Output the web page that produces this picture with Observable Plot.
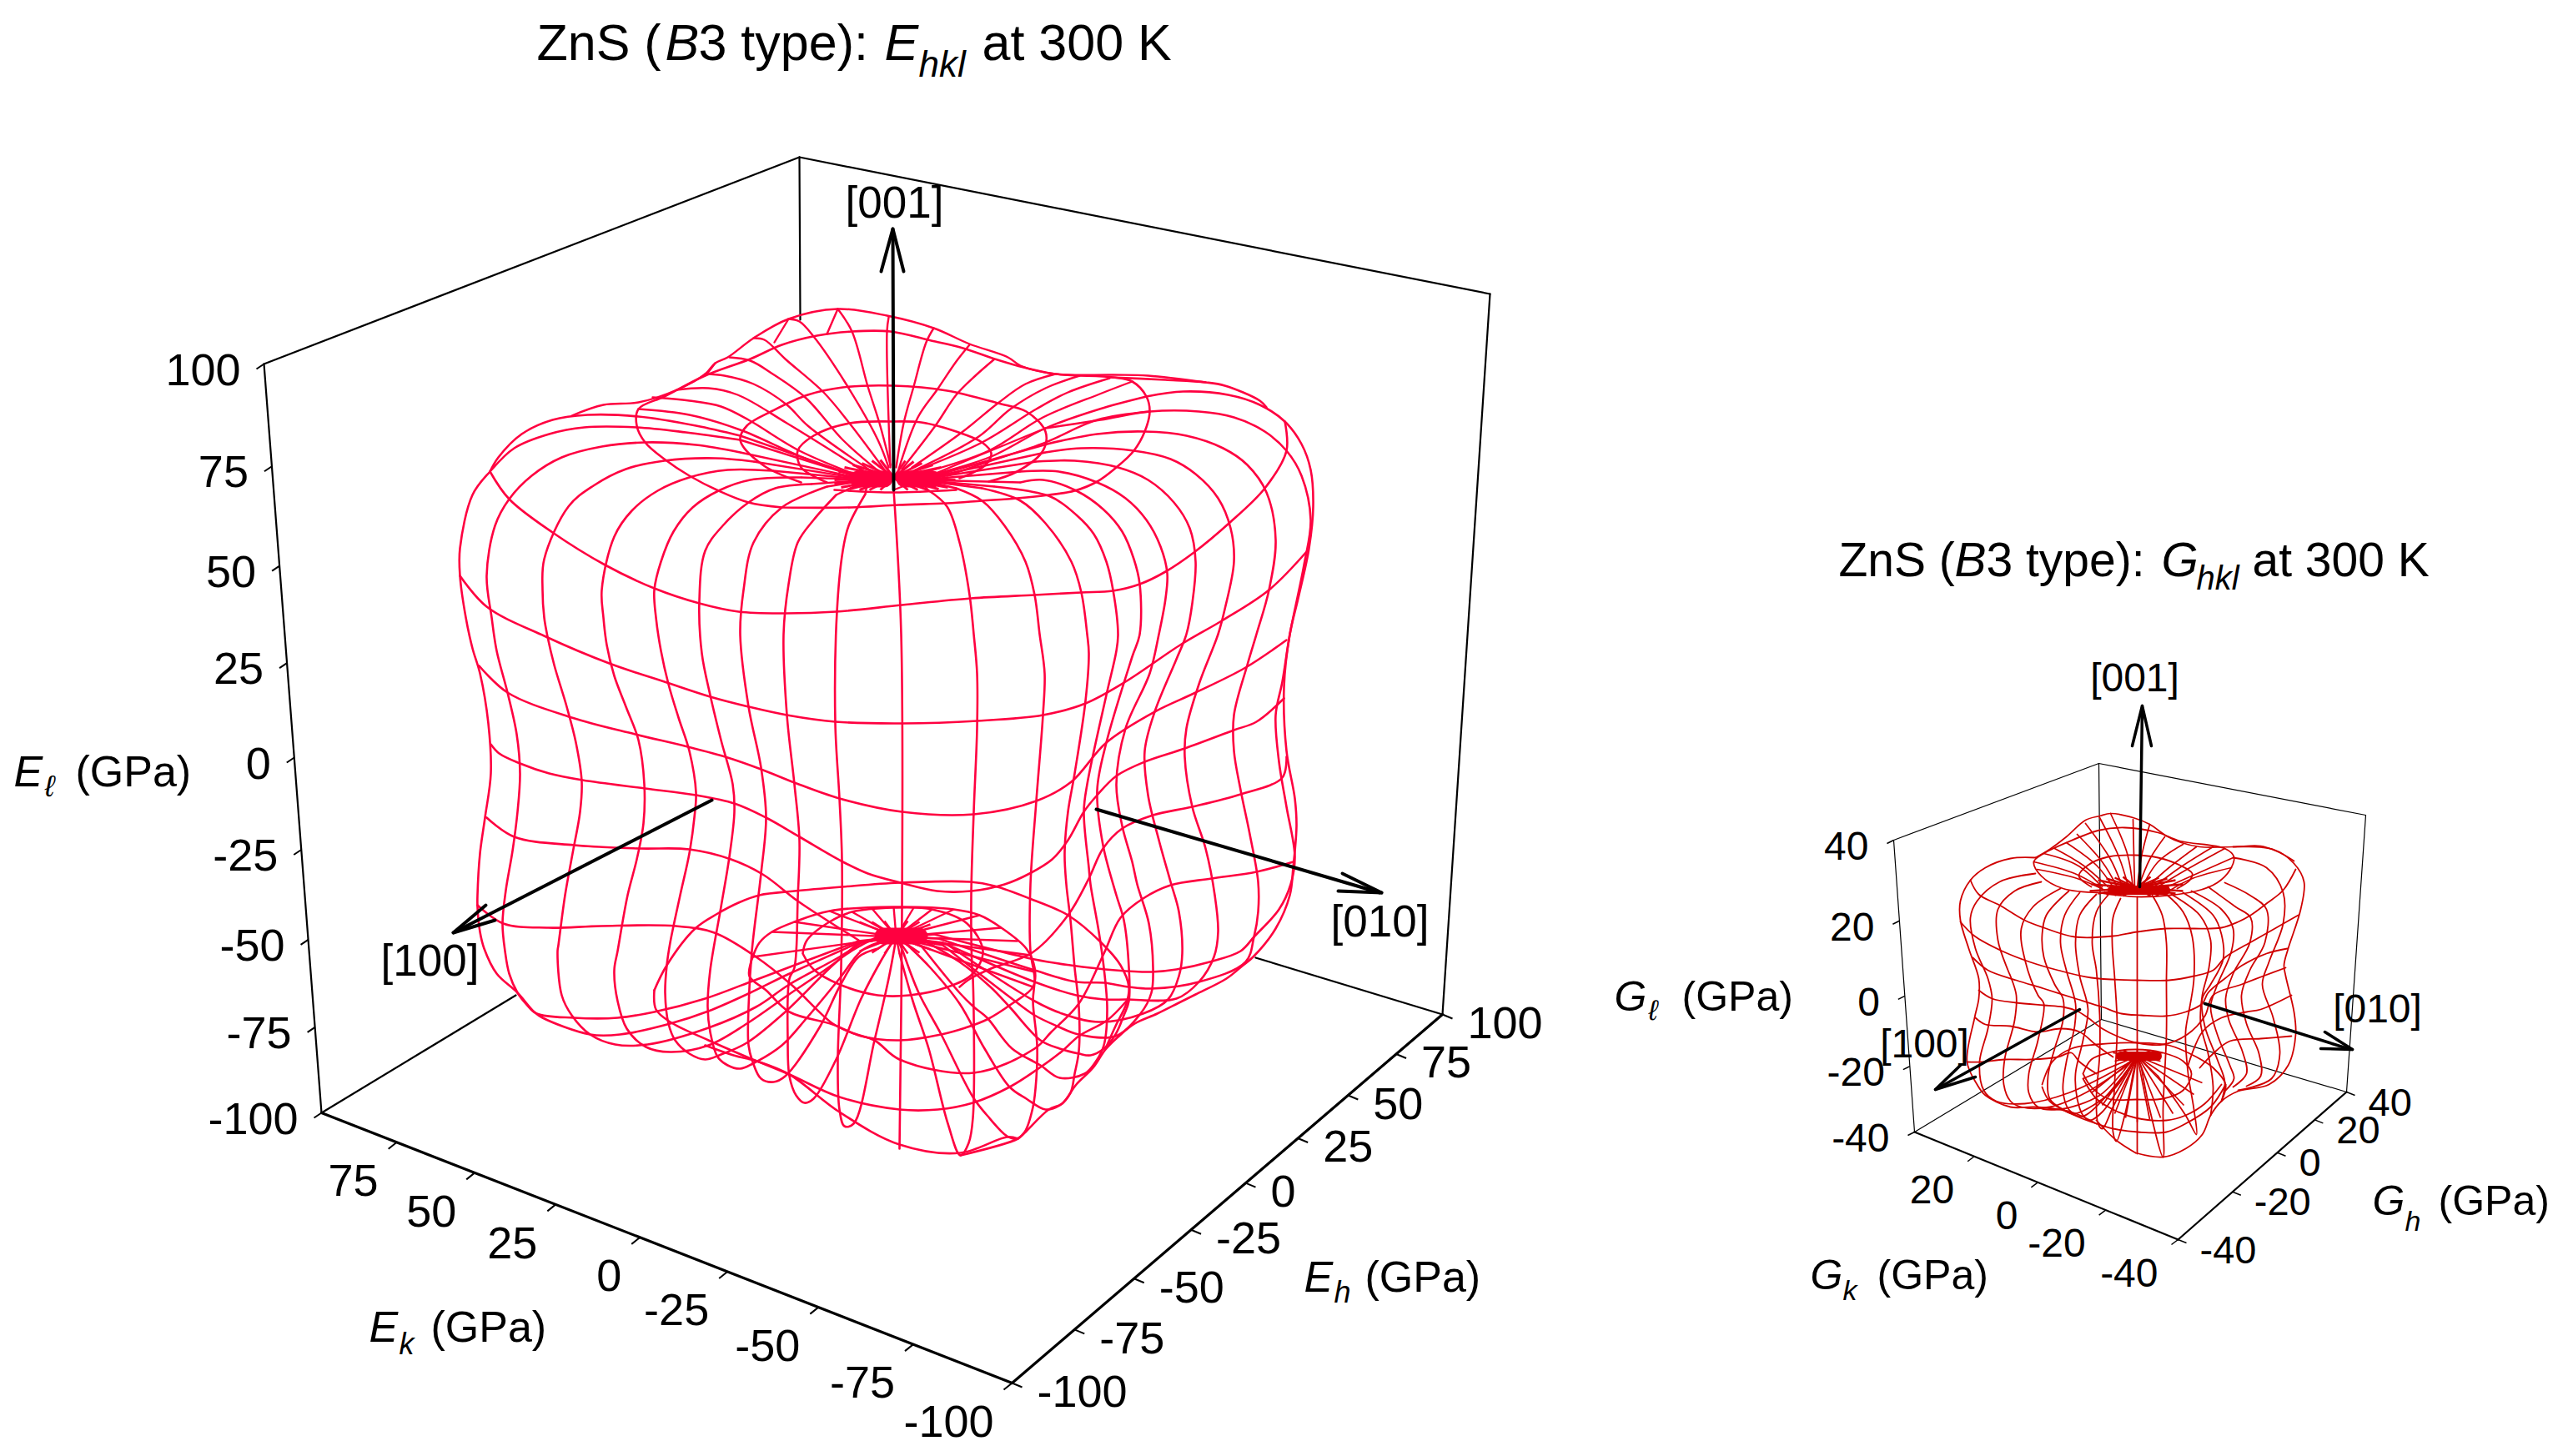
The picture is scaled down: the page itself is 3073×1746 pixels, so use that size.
<!DOCTYPE html>
<html><head><meta charset="utf-8">
<script src="https://cdn.jsdelivr.net/npm/d3@7"></script>
<script src="https://cdn.jsdelivr.net/npm/@observablehq/plot@0.6"></script>
<style>html,body{margin:0;padding:0;background:#fff}svg{display:block}</style>
</head><body><div id="chart"></div>
<script>
// Wireframes, as [x,y, x,y, ...] in the view plane.
const eMeridians = [
[1071,587,1080,760,1081,1090,1078,1377],
[1037,592,1017,630,1010,660,1003,733,1001,867,1006,957,1009,1030,1008,1160,1004,1273,1006,1330,1012,1350,1023,1347,1048,1247,1065,1173,1073,1130],
[1002,593,975,623,956,650,945,700,939,760,943,857,952,940,958,1007,956,1077,952,1160,946,1173,944,1247,946,1290,954,1313,964,1322,975,1317,1002,1270,1032,1197,1055,1153,1067,1133],
[991,583,937,608,903,650,891,707,887,760,897,847,912,920,918,980,912,1047,901,1140,897,1207,897,1253,902,1273,912,1293,927,1297,941,1290,983,1230,1006,1183,1029,1147,1052,1137],
[972,580,929,585,897,602,866,630,845,660,838,720,841,783,851,833,864,887,878,940,880,973,874,1027,864,1087,851,1163,848,1207,851,1237,860,1267,872,1277,887,1281,902,1275,937,1253,967,1220,1006,1173,1032,1140,1052,1130],
[960,572,899,575,861,588,830,608,807,637,792,673,784,707,786,740,792,780,801,820,813,860,826,900,834,950,832,980,826,1023,815,1073,803,1130,799,1157,797,1190,801,1227,809,1247,826,1263,845,1270,864,1264,895,1250,941,1213,1006,1150,1032,1133,1052,1123],
[926,564,872,563,826,572,788,588,757,612,736,643,721,707,723,740,727,773,736,810,750,847,765,887,772,940,771,987,763,1030,752,1073,740,1140,736,1163,740,1200,751,1233,774,1255,803,1261,849,1253,895,1227,944,1193,1002,1153,1029,1130],
[903,553,857,549,796,552,750,562,711,582,681,607,652,670,650,707,652,740,656,763,664,797,679,847,690,890,697,937,695,973,686,1023,677,1073,669,1133,668,1140,673,1193,685,1217,707,1240,737,1252,776,1252,849,1232,906,1207,946,1180,1006,1147,1032,1130],
[887,542,834,533,773,530,721,535,673,548,637,570,610,598,593,630,583,690,589,740,595,780,608,830,619,880,623,927,620,973,614,1020,606,1067,602,1107,605,1140,610,1167,620,1190,630,1203,643,1215,687,1220,740,1220,784,1213,845,1197,899,1177,952,1157,1029,1128],
[887,527,822,518,763,512,700,512,658,520,616,537,587,565,566,593,551,657,551,690,558,740,566,777,575,807,585,867,588,927,581,980,575,1023,572,1073,572,1087,575,1117,580,1137,595,1167,620,1190,640,1213,650,1220,707,1240,743,1240,803,1227,849,1212,899,1190,944,1168,1029,1130],
[887,522,834,510,765,499,704,497,662,503,625,520,597,548,587,565],
[1112,587,1135,607,1150,650,1162,713,1167,760,1171,807,1171,873,1167,973,1164,1073,1165,1160,1166,1173,1166,1340,1161,1370,1151,1385,1136,1347,1113,1257,1094,1200,1078,1143],
[1146,585,1177,600,1204,630,1229,673,1240,713,1246,760,1252,807,1250,857,1242,960,1235,1060,1235,1140,1240,1173,1238,1200,1243,1253,1242,1293,1238,1327,1228,1357,1218,1365,1207,1362,1183,1337,1166,1315,1128,1240,1101,1190,1082,1140],
[1177,585,1223,600,1253,627,1284,673,1296,710,1303,760,1305,783,1301,840,1288,927,1280,973,1276,1023,1278,1060,1283,1103,1288,1160,1293,1207,1293,1260,1288,1287,1283,1310,1270,1325,1253,1330,1230,1317,1210,1303,1180,1257,1150,1203,1115,1160,1090,1135],
[1192,583,1259,595,1290,617,1311,640,1326,673,1334,707,1340,760,1338,780,1326,833,1303,940,1299,973,1305,1040,1307,1060,1317,1117,1323,1160,1327,1210,1323,1253,1313,1273,1300,1287,1270,1292,1247,1277,1213,1257,1183,1220,1167,1207,1150,1190,1105,1135],
[1223,578,1250,575,1290,588,1322,610,1345,637,1359,670,1366,700,1366,760,1357,787,1326,890,1315,947,1322,1013,1338,1073,1347,1103,1353,1160,1353,1200,1347,1217,1337,1240,1323,1257,1307,1265,1293,1263,1270,1257,1247,1247,1210,1207,1187,1183,1150,1153,1112,1130],
[1223,565,1269,565,1315,578,1349,597,1374,623,1391,655,1399,687,1397,717,1389,760,1378,807,1349,873,1338,940,1345,990,1357,1033,1363,1060,1377,1107,1382,1160,1380,1190,1367,1215,1337,1242,1293,1240,1267,1230,1240,1217,1210,1195,1130,1133],
[1242,553,1288,552,1340,560,1376,575,1407,602,1426,633,1433,673,1429,723,1422,760,1410,790,1384,853,1372,900,1376,953,1389,1007,1403,1057,1413,1093,1417,1143,1413,1170,1400,1198,1370,1215,1317,1225,1273,1215,1240,1200,1135,1132],
[1253,542,1296,537,1359,540,1403,550,1433,568,1460,597,1475,633,1479,673,1468,730,1460,760,1437,820,1422,873,1420,907,1429,967,1445,1017,1456,1073,1460,1117,1455,1147,1437,1177,1410,1197,1350,1198,1323,1198,1290,1193,1240,1177,1130,1130],
[1255,532,1315,520,1372,517,1422,522,1466,537,1495,557,1518,590,1529,647,1521,707,1506,760,1495,797,1479,857,1479,900,1487,947,1498,1000,1508,1057,1508,1093,1503,1123,1493,1153,1437,1177,1380,1185,1353,1183,1323,1178,1290,1177,1240,1163,1125,1125],
[1253,513,1319,503,1378,493,1437,493,1479,500,1516,517,1542,540,1560,570,1571,623,1563,677,1546,760,1537,817,1529,857,1533,913,1542,967,1552,1027,1547,1060,1533,1090,1503,1123,1487,1140,1450,1153,1410,1162,1380,1165,1337,1163,1283,1157,1240,1150,1120,1120],
[1374,475,1418,469,1472,473,1510,485,1540,505,1560,532,1571,563,1574,607,1569,657,1556,717,1546,760,1539,823,1542,900,1552,957,1554,990,1550,1040,1546,1073,1529,1113,1502,1147,1490,1157,1470,1173,1433,1192,1413,1202,1387,1215,1360,1227,1340,1243,1325,1258,1310,1280,1290,1300,1273,1323,1257,1330,1228,1358,1220,1365,1151,1385],
[1330,452,1397,455,1445,458,1468,462,1510,480,1518,488]
];
const eFan = [
[782,476,826,480,864,487,897,503,958,540,1037,573],
[765,490,826,497,887,515,960,547,1037,575],
[811,467,849,465,884,473,943,507,1044,570],
[845,448,868,450,903,460,943,485,968,510,1048,567],
[874,428,899,432,926,448,966,477,1010,527,1056,567],
[903,405,916,407,941,430,987,470,1018,507,1060,563],
[945,382,958,385,975,403,1014,460,1052,527,1065,560],
[1004,370,1021,397,1040,463,1054,507,1067,557],
[1004,370,991,400],[945,382,928,410],[857,435,847,448],
[1065,380,1063,397,1067,560],
[1119,393,1110,410,1095,463,1083,507,1074,560],
[1162,413,1146,433,1123,467,1100,500,1077,562],
[1192,430,1169,450,1146,473,1121,510,1081,562],
[1265,448,1229,460,1196,483,1154,517,1093,560],
[1294,450,1253,465,1211,490,1173,523,1097,563],
[1330,453,1280,470,1242,490,1177,530,1100,563],
[1357,457,1318,472,1250,500,1185,540,1104,567],
[1374,475,1318,490,1253,513,1188,547,1112,570],
[1378,493,1315,503,1253,530,1185,553,1135,570],
[685,498,723,485,765,482,811,467,845,448,857,435,872,428,903,405,945,382,1004,370,1063,378,1119,393,1162,412,1208,428,1223,438,1265,448,1334,449,1376,450,1445,458]
];
const eParallels = [
[991,578,960,560,956,540,975,522,1018,507,1071,505,1104,506,1146,517,1177,530,1188,543,1181,557,1150,573],
[960,578,914,557,887,527,895,510,926,492,968,473,1010,464,1071,462,1135,468,1196,483,1230,493,1253,517,1250,540,1219,565,1185,577],
[937,608,897,602,861,588,826,570,796,550,773,530,763,510,765,490,796,475,845,450,899,430,937,413,979,402,1021,397,1067,397,1116,408,1154,417,1192,430,1219,438,1265,448,1334,452,1357,457,1374,475,1378,493,1372,517,1359,540,1338,560,1315,577,1288,588,1257,593,1219,597,1177,600,1135,603,1077,605,1020,608,937,608],
[587,565,610,598,662,638,725,677,784,705,838,723,885,733,939,735,1002,733,1081,725,1164,717,1240,713,1296,710,1334,708,1366,700,1397,685,1431,662,1473,627,1516,585,1542,540,1540,505],
[551,690,583,727,654,763,730,795,799,818,851,835,897,847,943,857,1001,865,1081,867,1171,864,1250,857,1301,843,1349,817,1416,772,1466,743,1521,707,1567,660],
[574,798,608,830,685,860,761,880,824,895,872,908,912,922,952,938,1006,957,1081,973,1167,976,1242,960,1284,937,1326,890,1384,853,1433,830,1493,800,1542,767],
[588,892,598,903,623,915,658,927,698,935,773,945,834,953,880,963,918,980,958,1003,1010,1033,1040,1047,1079,1058,1123,1068,1164,1068,1204,1060,1234,1047,1261,1030,1280,1007,1299,973,1315,953,1338,930,1372,913,1420,897,1479,875,1506,865,1539,837],
[583,980,616,1003,688,1013,765,1017,826,1018,876,1030,914,1048,956,1080,994,1105,1029,1127],
[1542,907,1537,932,1487,952,1429,967,1382,977,1345,993,1322,1017,1305,1053,1280,1097,1237,1142,1190,1160,1163,1173,1150,1183],
[572,1085,603,1107,657,1112,720,1110,810,1110,856,1118,906,1147,948,1180,998,1227,1021,1238,1048,1247,1078,1270,1167,1286,1240,1257,1260,1237,1293,1203,1323,1143,1343,1100,1370,1077,1403,1061,1452,1053,1506,1045,1550,1033],
[784,1187,799,1157,833,1113,860,1095,885,1082,910,1073,952,1068,1009,1063,1078,1058,1163,1057,1192,1062,1234,1077,1280,1097,1320,1130,1343,1157,1353,1183,1350,1203,1337,1230,1325,1257],
[784,1187,786,1210,803,1225,849,1247,895,1267,946,1288,1006,1315,1078,1330,1124,1330,1166,1322,1210,1303,1243,1282,1273,1260,1293,1242,1327,1223,1350,1200],
[845,1253,879,1265,910,1273,946,1288,1006,1333,1078,1372,1151,1382,1207,1363,1220,1365],
[902,1147,910,1130,925,1117,952,1105,994,1092,1071,1087,1143,1090,1174,1097,1200,1112,1230,1137,1240,1160,1238,1183,1213,1203,1183,1222,1157,1232,1128,1240,1078,1247,1032,1242,998,1228,946,1213,918,1187,898,1170,902,1147],
[962,1143,967,1127,994,1105,1021,1093,1071,1088,1117,1090,1159,1107,1178,1140,1166,1167,1136,1183,1090,1193,1052,1193,1006,1180,975,1162,962,1143],
[1000,587,1071,590,1146,587]
];
const eTopSpokes = [1000,575,1005,565,1012,560,1022,557,1033,555,1045,552,1055,551,1000,580,1008,584,1018,586,1030,587,1042,587,1055,587,1145,575,1138,566,1128,560,1118,557,1105,555,1095,553,1085,552,1145,580,1136,584,1125,586,1112,587,1100,587,1088,587];
const eBotSpokes = [902,1147,925,1117,952,1105,994,1092,1021,1093,1045,1089,1071,1087,1095,1088,1117,1090,1143,1090,1174,1097,1200,1112,1220,1128,1235,1145,1240,1165,1238,1183,1030,1105,1045,1105,1060,1104,1088,1104,1102,1105,1115,1108,1030,1140,1045,1142,1060,1143,1088,1143,1102,1142,1115,1138];

const gMeridians = [
[2562,1075,2562,1240,2562,1383],
[2542,1077,2533,1100,2532,1130,2535,1173,2538,1230,2535,1297,2533,1357,2537,1368,2547,1337,2557,1287],
[2527,1073,2513,1093,2508,1130,2513,1163,2517,1217,2517,1263,2513,1317,2515,1347,2520,1353,2533,1327,2553,1287],
[2513,1072,2493,1097,2488,1130,2493,1170,2503,1210,2497,1247,2488,1287,2490,1317,2497,1337,2505,1343,2520,1333,2550,1287],
[2493,1070,2475,1097,2470,1130,2477,1163,2488,1203,2487,1230,2477,1273,2473,1307,2480,1330,2497,1338,2550,1283],
[2480,1068,2453,1097,2448,1120,2450,1147,2463,1180,2473,1197,2473,1223,2463,1257,2455,1290,2457,1317,2473,1330,2487,1335,2533,1307,2552,1280],
[2470,1065,2437,1087,2423,1113,2428,1153,2443,1193,2450,1203,2443,1247,2432,1287,2432,1310,2443,1327,2467,1330,2517,1313,2550,1278],
[2447,1057,2415,1068,2395,1090,2395,1127,2407,1163,2410,1170,2417,1193,2415,1223,2403,1270,2402,1300,2410,1320,2423,1327,2457,1327,2500,1310,2550,1277],
[2440,1047,2397,1057,2370,1080,2362,1100,2368,1137,2383,1173,2388,1197,2383,1233,2373,1273,2378,1307,2393,1320,2427,1323,2480,1310,2550,1275],
[2440,1028,2410,1029,2380,1040,2362,1055,2350,1080,2350,1103,2360,1137,2372,1173,2372,1197,2367,1220,2358,1273,2370,1300,2380,1313,2410,1327,2440,1327,2483,1333,2513,1347],
[2580,1073,2592,1097,2597,1130,2597,1177,2597,1240,2593,1330,2593,1387,2577,1330,2567,1280],
[2597,1072,2617,1093,2628,1123,2630,1173,2625,1207,2620,1237,2623,1287,2630,1330,2633,1360,2620,1337,2587,1290],
[2603,1072,2637,1097,2650,1127,2648,1160,2640,1193,2638,1227,2647,1263,2653,1303,2650,1337],
[2617,1070,2653,1097,2663,1120,2665,1150,2650,1180,2640,1197,2643,1230,2658,1270,2667,1297,2663,1320],
[2627,1068,2663,1090,2677,1113,2675,1140,2657,1183,2650,1207,2658,1240,2673,1277,2678,1293,2668,1307],
[2647,1063,2680,1087,2698,1100,2697,1130,2677,1167,2668,1197,2672,1223,2688,1260,2693,1287,2677,1303],
[2667,1058,2697,1073,2717,1090,2715,1130,2697,1163,2687,1193,2693,1227,2708,1263,2710,1290,2693,1302],
[2677,1028,2717,1040,2737,1070,2737,1107,2720,1153,2712,1180,2725,1220,2733,1263,2723,1293,2683,1307],
[2677,1015,2725,1018,2750,1035,2762,1057,2758,1090,2743,1137,2738,1157,2740,1170,2750,1213,2752,1240,2743,1277,2720,1300,2683,1308,2663,1320,2650,1337,2640,1360,2620,1377,2593,1387,2560,1382]
];
const gFan = [
[2450,1023,2490,1037,2520,1063],[2463,1017,2497,1037,2527,1063],[2477,1010,2513,1037,2533,1063],
[2490,1000,2520,1033,2538,1063],[2500,987,2530,1030,2545,1065],[2517,980,2540,1027,2552,1065],
[2530,975,2550,1023,2557,1065],[2557,982,2558,1025,2559,1065],[2577,988,2567,1027,2562,1065],
[2595,1003,2577,1030,2563,1065],[2617,1012,2587,1033,2567,1065],[2633,1015,2600,1040,2572,1065],
[2653,1015,2613,1040,2577,1067],[2667,1017,2620,1043,2580,1067],[2677,1028,2627,1050,2587,1068],
[2675,1040,2628,1053,2600,1068],[2438,1033,2487,1047,2520,1065],[2442,1042,2490,1053,2523,1067],
[2440,1028,2457,1018,2477,1003,2500,983,2517,978,2530,975,2557,980,2577,988,2597,1002,2615,1010,2637,1015,2677,1015,2710,1014,2733,1022,2750,1032]
];
const gParallels = [
[2507,1063,2492,1050,2503,1037,2527,1027,2560,1025,2587,1028,2613,1037,2628,1047,2625,1055,2610,1065],
[2517,1070,2473,1065,2447,1050,2438,1033,2450,1023,2477,1010,2517,995,2547,992,2587,998,2613,1008,2667,1017,2678,1027,2673,1043,2658,1058,2633,1068,2567,1075,2517,1070],
[2362,1055,2372,1072,2397,1085,2427,1103,2450,1112,2487,1123,2533,1122,2562,1117,2597,1113,2628,1113,2663,1112,2683,1105,2698,1097,2717,1083,2737,1067,2752,1042],
[2350,1105,2367,1122,2400,1140,2433,1153,2467,1163,2507,1172,2562,1175,2600,1175,2630,1170,2653,1163,2668,1147,2697,1130,2727,1113,2755,1097],
[2365,1148,2383,1163,2417,1175,2450,1185,2488,1197,2520,1207,2543,1215,2567,1217,2595,1218,2620,1213,2640,1203,2647,1190,2667,1173,2688,1157,2717,1143,2742,1137],
[2372,1187,2388,1197,2417,1202,2450,1205,2473,1207,2490,1212,2503,1220,2520,1233,2540,1243,2562,1250,2593,1252,2622,1240,2643,1218,2653,1193,2687,1180,2713,1170,2740,1160],
[2368,1220,2380,1228,2410,1230,2443,1237,2470,1233,2493,1237,2513,1253,2533,1267],
[2623,1277,2640,1237,2663,1220,2693,1213,2710,1210,2747,1193],
[2358,1273,2375,1273,2403,1270,2435,1270,2467,1267,2483,1262,2493,1273,2513,1287],
[2747,1242,2710,1245,2673,1248,2653,1263,2637,1280],
[2448,1300,2460,1273,2483,1257,2513,1252,2560,1250,2600,1253,2633,1267,2653,1280,2668,1300,2663,1320],
[2448,1303,2457,1320,2487,1337,2513,1347,2533,1353,2563,1357,2597,1357,2620,1347,2650,1327,2668,1300],
[2497,1293,2513,1317,2533,1330,2560,1340,2597,1343,2620,1337,2643,1323,2663,1300],
[2497,1287,2507,1270,2527,1262,2560,1258,2593,1262,2617,1272,2627,1287,2617,1307,2593,1317,2560,1318,2527,1317,2507,1303,2497,1287],
[2513,1343,2537,1367,2560,1382]
];
const gTopSpokes = [2507,1060,2515,1055,2525,1053,2535,1052,2545,1051,2505,1068,2515,1071,2525,1072,2535,1073,2545,1074,2617,1060,2608,1055,2598,1053,2588,1052,2578,1051,2617,1068,2608,1071,2598,1072,2588,1073,2578,1074];
const gBotSpokes = [2497,1293,2507,1310,2520,1325,2535,1335,2548,1340,2562,1345,2577,1342,2590,1340,2605,1335,2618,1325,2630,1312,2640,1298,2533,1262,2545,1259,2562,1258,2578,1259,2593,1262,2535,1272,2590,1272];

// Solid knots where the meridians crowd together at the poles: [x1,y1,x2,y2]
const ePoleKnots = [[1028,574,1060,574],[1084,574,1118,574],[1058,1122,1102,1122]];
const gPoleKnots = [[2532,1067,2596,1067],[2542,1266,2586,1266]];

// Axes
const eTicks = [100,75,50,25,0,-25,-50,-75,-100];
const gTicks = [40,20,0,-20,-40];
const eBox = {top:[958,188],left:[316,436],right:[1786,352],lb:[385,1334],front:[1213,1658],rb:[1729,1216]};
const gBox = {top:[2516,915],left:[2270,1007],right:[2836,977],lb:[2295,1357],front:[2611,1486],rb:[2813,1309],back:[2519,1222]};

const ink = "#000";
const eRed = "#ff0040", gRed = "#d00000";

function toPts(lines, key) {
  return lines.flatMap((l, i) => {
    const p = [];
    for (let j = 0; j < l.length; j += 2) p.push({x: l[j], y: l[j+1], id: key + i});
    return p;
  });
}
function spokes(flat, cx, cy) {
  const s = [];
  for (let j = 0; j < flat.length; j += 2) s.push({x1: flat[j], y1: flat[j+1], x2: cx, y2: cy});
  return s;
}
// meridians run on into the poles
const eTopJoin = eMeridians.filter(l => l[0] < 1300).map(l => {
  const left = l[0] < 1071;
  return {x1: l[0], y1: l[1], x2: left ? 1040 : 1102, y2: 575};
});
const eBotJoin = eMeridians.filter(l => { const n = l.length; return l[n-1] < 1145 && l[n-2] > 1020 && l[n-2] < 1140; })
  .map(l => { const n = l.length; return {x1: l[n-2], y1: l[n-1], x2: 1074, y2: 1123}; });
const gBotJoin = gMeridians.filter(l => { const n = l.length; return l[n-1] < 1295 && l[n-1] > 1270; })
  .map(l => { const n = l.length; return {x1: l[n-2], y1: l[n-1], x2: 2562, y2: 1266}; });

const along = (a, b, s, r) => { const f = s / (s + (1 - s) * r); return [a[0] + (b[0]-a[0]) * f, a[1] + (b[1]-a[1]) * f]; };
function axisData(ticks, max, a, b, r, dir, tx, ty, lx, ly, skip) {
  return ticks.filter(t => t !== skip).map(t => {
    const p = along(a, b, dir(t, max), r);
    return {t: String(t), x1: p[0], y1: p[1], x2: p[0]+tx, y2: p[1]+ty, lx: p[0]+lx, ly: p[1]+ly};
  });
}
const down = (t, m) => (m - t) / (2 * m), up = (t, m) => (t + m) / (2 * m);

function axisMarks(rows, anchor, fs, sw) {
  return [
    Plot.link(rows, {x1:"x1", y1:"y1", x2:"x2", y2:"y2", stroke: ink, strokeWidth: sw}),
    Plot.text(rows, {x:"lx", y:"ly", text:"t", fontSize: fs, textAnchor: anchor, fill: ink})
  ];
}
function seg(pairs, sw, color) {
  const rows = pairs.map(([a, b]) => ({x1:a[0], y1:a[1], x2:b[0], y2:b[1]}));
  return Plot.link(rows, {x1:"x1", y1:"y1", x2:"x2", y2:"y2", stroke: color || ink, strokeWidth: sw, strokeLinecap:"round"});
}
const E = eBox, G = gBox;
const eL = axisData(eTicks,100,E.left,E.lb,0.9026,down,-9,6,-28,8);
const eK = axisData(eTicks,100,E.lb,E.front,1.169,down,-10,8,-22,47,100);
const eH = axisData(eTicks,100,E.front,E.rb,0.843,up,12,5,30,11);
const gL = axisData(gTicks,40,G.left,G.lb,0.873,down,-8,4,-30,8);
const gK = axisData(gTicks,40,G.lb,G.front,1.137,down,-8,6,-24,41,40);
const gH = axisData(gTicks,40,G.front,G.rb,0.698,up,10,4,26,13);

const wire = (pts, sw, c) => Plot.line(pts, {x:"x", y:"y", z:"id", stroke:c, strokeWidth:sw, curve:"catmull-rom", strokeLinejoin:"round"});
const spoke = (rows, sw, c) => Plot.link(rows, {x1:"x1", y1:"y1", x2:"x2", y2:"y2", stroke:c, strokeWidth:sw});
const knots = (rows, sw, c) => Plot.link(rows, {x1:d=>d[0], y1:d=>d[1], x2:d=>d[2], y2:d=>d[3], stroke:c, strokeWidth:sw, strokeLinecap:"round"});

// text runs: [text, x, y, size, italic]
const runs = [
 ["ZnS (",643,71,61,0],["B",797,71,61,1],["3 type): ",837,71,61,0],["E",1060,71,61,1],["hkl",1101,91,44,1],["at 300 K",1177,71,61,0],
 ["ZnS (",2204,690,57,0],["B",2343,690,57,1],["3 type): ",2381,690,57,0],["G",2591,690,57,1],["hkl",2633,706,40,1],["at 300 K",2700,690,57,0],
 ["E",16,942,52,1],["\u2113",53,954,36,1],["(GPa)",90,942,52,0],
 ["E",442,1608,52,1],["k",478,1623,36,1],["(GPa)",516,1608,52,0],
 ["E",1563,1548,52,1],["h",1599,1561,36,1],["(GPa)",1636,1548,52,0],
 ["G",1935,1211,50,1],["\u2113",1976,1222,34,1],["(GPa)",2016,1211,50,0],
 ["G",2170,1545,50,1],["k",2209,1558,34,1],["(GPa)",2250,1545,50,0],
 ["G",2844,1456,50,1],["h",2883,1475,34,1],["(GPa)",2923,1456,50,0]
];
const dirLabels = [["[001]",1072,244,53],["[100]",515,1153,53],["[010]",1654,1106,53],["[001]",2559,813,48],["[100]",2307,1252,48],["[010]",2850,1210,48]];

function runMarks(rows) {
  const sizes = [...new Set(rows.map(r => r[3]))];
  return sizes.flatMap(fs => [0,1].map(it => Plot.text(rows.filter(r => r[3] === fs && r[4] === it), {
    x: r => r[1], y: r => r[2], text: r => r[0], fontSize: fs, fontStyle: it ? "italic" : "normal",
    textAnchor: "start", lineAnchor: "bottom", fill: ink})));
}

const chart = Plot.plot({
  width: 3073, height: 1746, margin: 0,
  style: {fontFamily: "'Liberation Sans', Arial, sans-serif", background: "#fff"},
  x: {domain: [0, 3073], range: [0, 3073], axis: null},
  y: {domain: [0, 1746], range: [0, 1746], axis: null},
  marks: [
    seg([[E.left,E.top],[E.top,E.right],[E.top,[959,383]],[E.left,E.lb],[E.right,E.rb],[E.lb,[618,1193]],[E.rb,[1505,1148]]], 2.2),
    seg([[E.lb,E.front],[E.front,E.rb]], 3.2),
    ...axisMarks(eL,"end",54,2), ...axisMarks(eK,"end",54,2), ...axisMarks(eH,"start",54,2),
    seg([[G.left,G.top],[G.top,G.right],[G.top,G.back],[G.left,G.lb],[G.right,G.rb],[G.lb,G.back],[G.back,G.rb]], 1.2),
    seg([[G.lb,G.front],[G.front,G.rb]], 2.2),
    ...axisMarks(gL,"end",48,1.5), ...axisMarks(gK,"end",48,1.5), ...axisMarks(gH,"start",47,1.5),
    wire(toPts(eMeridians,"em"),2.6,eRed), wire(toPts(eFan,"ef"),2.4,eRed), wire(toPts(eParallels,"ep"),2.6,eRed),
    spoke(eTopJoin,2.4,eRed), spoke(eBotJoin,2.4,eRed),
    spoke(spokes(eTopSpokes,1071,572),3,eRed), spoke(spokes(eBotSpokes,1074,1123),2.4,eRed),
    knots(ePoleKnots,20,eRed),
    wire(toPts(gMeridians,"gm"),1.8,gRed), wire(toPts(gFan,"gf"),1.7,gRed), wire(toPts(gParallels,"gp"),1.8,gRed),
    spoke(gBotJoin,1.7,gRed),
    spoke(spokes(gTopSpokes,2561,1064),2.4,gRed), spoke(spokes(gBotSpokes,2562,1266),1.7,gRed),
    knots(gPoleKnots,11,gRed),
    seg([[[1071,587],[1070,276]],[[1070,274],[1056,325]],[[1070,274],[1083,325]]],4),
    seg([[[853,959],[545,1117]],[[543,1118],[582,1085]],[[543,1118],[593,1103]]],4),
    seg([[[1314,970],[1654,1070]],[[1656,1070],[1609,1047]],[[1656,1070],[1604,1068]]],4),
    seg([[[2565,1063],[2568,848]],[[2568,846],[2556,894]],[[2568,846],[2579,894]]],3.5),
    seg([[[2493,1210],[2322,1305]],[[2320,1306],[2350,1277]],[[2320,1306],[2368,1291]]],3.5),
    seg([[[2643,1203],[2818,1258]],[[2820,1258],[2787,1237]],[[2820,1258],[2782,1257]]],3.5),
    Plot.text(dirLabels, {x: d => d[1], y: d => d[2], text: d => d[0], fontSize: d => d[3], fill: ink}),
    ...runMarks(runs)
  ]
});
document.getElementById("chart").append(chart);
</script></body></html>
